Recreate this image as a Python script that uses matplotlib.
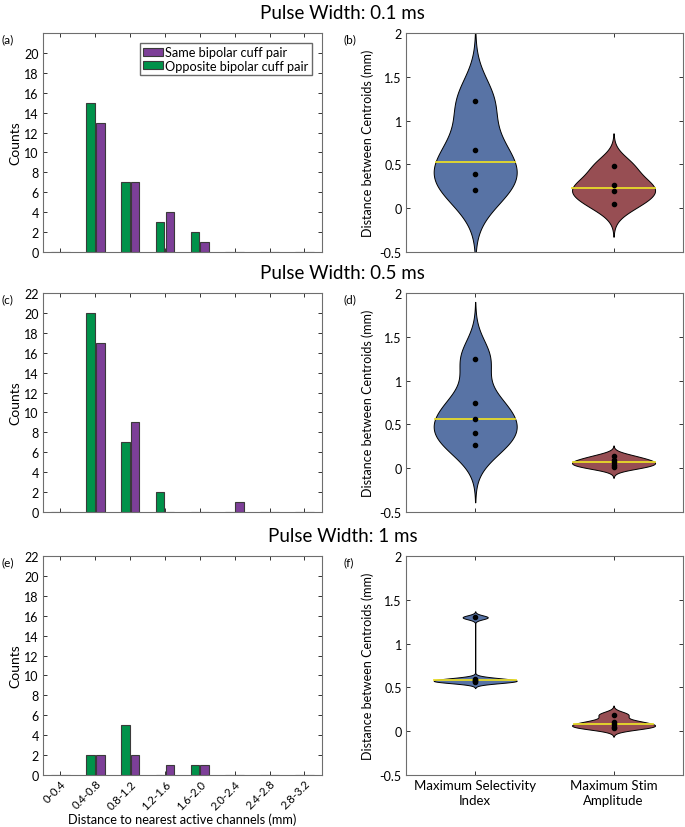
import numpy as np
import matplotlib
matplotlib.use('Agg')
import matplotlib.pyplot as plt

plt.rcParams['font.family'] = ['Lato', 'DejaVu Sans']

# histogram data (counts per distance bin)
bins = ['0-0.4', '0.4-0.8', '0.8-1.2', '1.2-1.6', '1.6-2.0', '2.0-2.4', '2.4-2.8', '2.8-3.2']
opposite_01 = [0, 15, 7, 3, 2, 0, 0, 0]
same_01 = [0, 13, 7, 4, 1, 0, 0, 0]
opposite_05 = [0, 20, 7, 2, 0, 0, 0, 0]
same_05 = [0, 17, 9, 0, 0, 1, 0, 0]
opposite_1 = [0, 2, 5, 0, 1, 0, 0, 0]
same_1 = [0, 2, 2, 1, 1, 0, 0, 0]

# centroid distances (mm)
sel_01 = [1.22, 0.67, 0.39, 0.21]
amp_01 = [0.48, 0.26, 0.20, 0.05]
sel_05 = [1.25, 0.75, 0.56, 0.40, 0.26]
amp_05 = [0.14, 0.09, 0.07, 0.035, 0.01]
sel_1 = [1.30, 0.60, 0.58, 0.57, 0.56]
amp_1 = [0.19, 0.11, 0.08, 0.05, 0.04]

titles = ['Pulse Width: 0.1 ms', 'Pulse Width: 0.5 ms', 'Pulse Width: 1 ms']
violin_labels = ['Maximum Selectivity\nIndex', 'Maximum Stim\nAmplitude']

green = '#00924A'
purple = '#7D3F98'
blue = '#5873A5'
red = '#974E53'
yellow = '#E8DC2A'
edge = '#3a3a3a'


def kde_shape(vals):
    # gaussian kde with silverman bandwidth (robust sigma), like ksdensity
    v = np.asarray(vals, dtype=float)
    n = len(v)
    sig = np.median(np.abs(v - np.median(v))) / 0.6745
    bw = sig * (4.0 / (3.0 * n)) ** 0.2
    y = np.linspace(v.min() - 3 * bw, v.max() + 3 * bw, 300)
    d = np.exp(-0.5 * ((y[:, None] - v[None, :]) / bw) ** 2).sum(axis=1)
    return y, d / d.max()


def style_axes(ax):
    for s in ax.spines.values():
        s.set_color('#6e6e6e')
        s.set_linewidth(0.8)
    ax.tick_params(direction='in', length=3, width=0.7, color='#333333',
                   top=True, right=True, labelsize=9, pad=3)


fig = plt.figure(figsize=(6.85, 8.28), dpi=100)

lefts = [0.0628, 0.5927]
bottoms = [0.6944, 0.3804, 0.0628]
w_hist, w_vio, h = 0.407, 0.404, 0.2645

hist_data = [(opposite_01, same_01), (opposite_05, same_05), (opposite_1, same_1)]
vio_data = [(sel_01, amp_01), (sel_05, amp_05), (sel_1, amp_1)]
letters = [('(a)', '(b)'), ('(c)', '(d)'), ('(e)', '(f)')]

x = np.arange(1, len(bins) + 1)
for r in range(3):
    # histogram panel
    ax = fig.add_axes([lefts[0], bottoms[r], w_hist, h])
    opp, same = hist_data[r]
    b1 = ax.bar(x - 0.14, opp, width=0.25, color=green, edgecolor=edge, linewidth=0.8,
                label='Opposite bipolar cuff pair', zorder=2)
    b2 = ax.bar(x + 0.14, same, width=0.25, color=purple, edgecolor=edge, linewidth=0.8,
                label='Same bipolar cuff pair', zorder=2)
    ax.set_xlim(0.5, 8.5)
    ax.set_ylim(0, 22)
    ax.set_xticks(x)
    if r == 0:
        ax.set_yticks(np.arange(0, 21, 2))
        ax.legend([b2, b1], ['Same bipolar cuff pair', 'Opposite bipolar cuff pair'],
                  loc='upper right', fontsize=9.2, frameon=True, fancybox=False,
                  edgecolor='#444444', handlelength=1.6, handleheight=0.6,
                  handletextpad=0.15, borderpad=0.25, labelspacing=0.1,
                  borderaxespad=0.8)
    else:
        ax.set_yticks(np.arange(0, 23, 2))
    ax.set_ylabel('Counts', fontsize=10, labelpad=2)
    style_axes(ax)
    if r == 2:
        ax.set_xticklabels(bins, rotation=45, ha='right', rotation_mode='anchor',
                           fontsize=8.2)
        ax.tick_params(axis='x', pad=2)
        ax.set_xlabel('Distance to nearest active channels (mm)', fontsize=9.2, labelpad=1)
    else:
        ax.set_xticklabels([])
    fig.text(0.002, bottoms[r] + h, letters[r][0], fontsize=8.5, va='top')

    # violin panel
    ax2 = fig.add_axes([lefts[1], bottoms[r], w_vio, h])
    for pos, vals, col in zip([1, 2], vio_data[r], [blue, red]):
        y, d = kde_shape(vals)
        ax2.fill_betweenx(y, pos - 0.3 * d, pos + 0.3 * d, facecolor=col,
                          edgecolor='black', linewidth=0.7, zorder=2)
        med = np.median(vals)
        dm = np.interp(med, y, d)
        ax2.plot([pos - 0.3 * dm, pos + 0.3 * dm], [med, med], color=yellow,
                 linewidth=1.3, zorder=3)
        ax2.scatter(np.full(len(vals), pos), vals, s=9, color='black', zorder=4)
    ax2.set_xlim(0.5, 2.5)
    ax2.set_ylim(-0.5, 2)
    ax2.set_yticks([-0.5, 0, 0.5, 1, 1.5, 2])
    ax2.set_yticklabels(['-0.5', '0', '0.5', '1', '1.5', '2'])
    ax2.set_xticks([1, 2])
    ax2.set_ylabel('Distance between Centroids (mm)', fontsize=9, labelpad=4)
    style_axes(ax2)
    if r == 2:
        ax2.set_xticklabels(violin_labels, fontsize=9.5, linespacing=1.3)
    else:
        ax2.set_xticklabels([])
    fig.text(0.502, bottoms[r] + h, letters[r][1], fontsize=8.5, va='top')

    fig.text(0.5, bottoms[r] + h + 0.014, titles[r], fontsize=13.5, ha='center', va='bottom')

fig.savefig('out.png', dpi=100)
